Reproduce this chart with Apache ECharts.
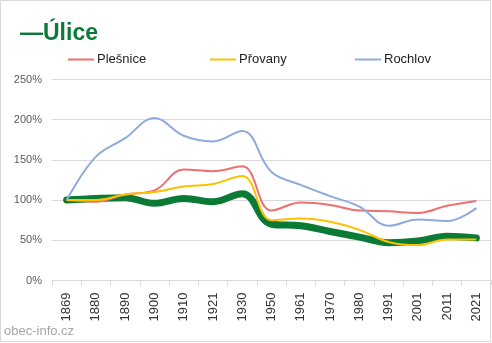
<!DOCTYPE html>
<html>
<head>
<meta charset="utf-8">
<script src="https://cdn.jsdelivr.net/npm/echarts@6/dist/echarts.min.js"></script>
<style>
  html, body { margin: 0; padding: 0; background: #fff; }
  #chart { width: 492px; height: 343px; }
</style>
</head>
<body>
<div id="chart"></div>
<script>
// Census years on the x axis
const years = ['1869','1880','1890','1900','1910','1921','1930','1950','1961','1970','1980','1991','2001','2011','2021'];

// Population relative to 1869 (percent)
const plesnice = [100, 98, 107, 112, 138, 136, 142, 87, 97, 94, 87, 86, 84, 93, 99];
const provany  = [100, 100, 107, 110, 117, 120, 130, 75, 77, 73, 63, 48, 44, 51, 51];
const rochlov  = [100, 154, 177, 202, 180, 173, 186, 135, 119, 105, 92, 68, 76, 74, 90];
const ulice    = [100, 102, 103, 96, 102, 98, 108, 70, 68, 61, 54, 47, 49, 55, 53];

const yTicks = { min: 0, max: 250, interval: 50 };

const FONT = '"Liberation Sans", Arial, sans-serif';
const GRID_COLOR = '#d9d9d9';

const chart = echarts.init(document.getElementById('chart'), null, { renderer: 'canvas' });

function legendAt(name, left) {
  return {
    data: [name],
    left: left,
    top: 48,
    icon: 'rect',
    itemWidth: 26,
    itemHeight: 2,
    itemGap: 0,
    textStyle: { fontFamily: FONT, fontSize: 13, color: '#222', padding: [0, 0, 0, -2] }
  };
}

chart.setOption({
  animation: false,
  backgroundColor: '#fff',
  title: {
    text: '—Úlice',
    left: 15,
    top: 17,
    textStyle: { fontFamily: FONT, fontSize: 23, fontWeight: 'bold', color: '#0b7a35' }
  },
  legend: [
    legendAt('Plešnice', 63),
    legendAt('Přovany', 205),
    legendAt('Rochlov', 350)
  ],
  grid: { left: 52, right: 1, top: 79.5, bottom: 62.5, containLabel: false },
  xAxis: {
    type: 'category',
    data: years,
    boundaryGap: true,
    axisLine: { lineStyle: { color: GRID_COLOR } },
    axisTick: { show: true, length: 5, lineStyle: { color: GRID_COLOR } },
    axisLabel: {
      rotate: 90,
      margin: 12,
      interval: 0,
      fontFamily: FONT,
      fontSize: 13,
      color: '#333'
    }
  },
  yAxis: {
    type: 'value',
    min: yTicks.min,
    max: yTicks.max,
    interval: yTicks.interval,
    axisLine: { show: false },
    axisTick: { show: false },
    splitLine: { lineStyle: { color: GRID_COLOR } },
    axisLabel: {
      formatter: '{value}%',
      margin: 10,
      fontFamily: FONT,
      fontSize: 11,
      color: '#595959'
    }
  },
  series: [
    {
      name: 'Úlice', type: 'line', data: ulice, smooth: 0.4, symbol: 'none',
      lineStyle: { width: 7, color: '#0b7a35', cap: 'round' }, itemStyle: { color: '#0b7a35' }, z: 1
    },
    {
      name: 'Plešnice', type: 'line', data: plesnice, smooth: 0.4, symbol: 'none',
      lineStyle: { width: 2, color: '#ee6f6f' }, itemStyle: { color: '#ee6f6f' }, z: 2
    },
    {
      name: 'Přovany', type: 'line', data: provany, smooth: 0.4, symbol: 'none',
      lineStyle: { width: 2, color: '#ffc000' }, itemStyle: { color: '#ffc000' }, z: 2
    },
    {
      name: 'Rochlov', type: 'line', data: rochlov, smooth: 0.4, symbol: 'none',
      lineStyle: { width: 2, color: '#8faadc' }, itemStyle: { color: '#8faadc' }, z: 2
    }
  ],
  graphic: [
    {
      type: 'rect',
      shape: { x: 0.5, y: 0.5, width: 490, height: 341 },
      style: { fill: 'none', stroke: '#d9d9d9', lineWidth: 1 },
      silent: true
    },
    {
      type: 'text',
      left: 4,
      top: 325,
      style: { text: 'obec-info.cz', fontFamily: FONT, fontSize: 13, fill: '#a6a6a6' },
      silent: true
    }
  ]
});
</script>
</body>
</html>
